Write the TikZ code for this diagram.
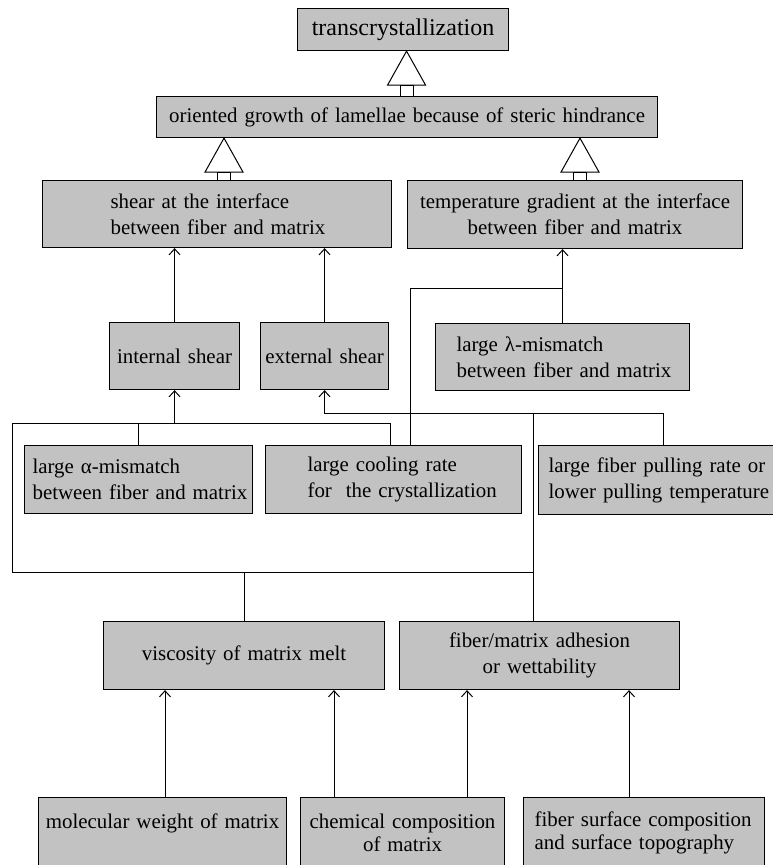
\documentclass[tikz,border=0pt]{standalone}
\usepackage{fontspec}
\setmainfont{Liberation Serif}
\usetikzlibrary{arrows.meta}
\newcommand\fsn{\fontsize{20.9}{26}\selectfont\hyphenpenalty=10000\exhyphenpenalty=10000}
\newcommand\fsb{\fontsize{20.9}{23}\selectfont\hyphenpenalty=10000\exhyphenpenalty=10000}
\newcommand\ftop{\fontsize{24}{28}\selectfont}
\tikzset{
  bx/.style={draw, fill=black!24, line width=1.1pt, inner sep=0pt, anchor=north west, font=\fsn},
  B/.style n args={3}{minimum width=#1pt, text width=#1pt, minimum height=#2pt, align=#3},
  arr/.style={line width=1pt, -{Straight Barb[length=6pt,width=11pt]}},
  ln/.style={line width=1pt},
  hol/.style={line width=1pt, fill=white}
}
\begin{document}
\begin{tikzpicture}[x=1pt,y=-1pt]
\useasboundingbox (0,0) rectangle (772,865);
% boxes
\node[bx,B={211}{42}{center},font=\ftop] (trans) at (297,8) {transcrystallization};
\node[bx,B={501}{41}{center}] (orient) at (156,96) {oriented growth of lamellae because of steric hindrance};
\node[bx,B={349}{67}{left}] (shear) at (42,180) {\hspace*{68pt}shear at the interface\\\hspace*{68pt}between fiber and matrix};
\node[bx,B={335}{68}{center}] (temp) at (407,180) {temperature gradient at the interface\\between fiber and matrix};
\node[bx,B={130}{67}{center}] (internal) at (109,322) {internal shear};
\node[bx,B={128}{67}{center}] (external) at (260,322) {external shear};
\node[bx,B={254}{67}{left}] (lambda) at (435,323) {\hspace*{21pt}large λ-mismatch\\\hspace*{21pt}between fiber and matrix};
\node[bx,B={228}{68}{left}] (alpha) at (24,445) {\hspace*{8pt}large α-mismatch\\\hspace*{8pt}between fiber and matrix};
\node[bx,B={256}{68}{left}] (cooling) at (265,445) {\hspace*{42pt}large cooling rate\\\hspace*{42pt}for\ \ the crystallization};
\node[bx,B={240}{69}{left}] (pulling) at (538,445) {\hspace*{10pt}large fiber pulling rate or\\\hspace*{10pt}lower pulling temperature};
\node[bx,B={281}{68}{center}] (visc) at (103,621) {viscosity of matrix melt};
\node[bx,B={280}{68}{center}] (adh) at (399,621) {fiber/matrix adhesion\\or wettability};
\node[bx,B={248}{71}{center},text height=15pt,text depth=24pt] (molw) at (38,797) {molecular weight of matrix};
\node[bx,B={204}{71}{center},font=\fsb] (chem) at (300,797) {chemical composition\\of matrix};
\node[bx,B={241}{71}{left},font=\fsb] (surf) at (523,797) {\hspace*{11pt}fiber surface composition\\\hspace*{11pt}and surface topography};
% hollow arrows
\coordinate (h1) at ([xshift=3.5pt]trans.south);
\coordinate (h2) at ([xshift=68pt]orient.south west);
\coordinate (h3) at ([xshift=424pt]orient.south west);
\foreach \h/\c in {h1/orient, h2/shear, h3/temp}{
  \draw[hol] (\h) -- ++(-19,34) -- ++(38,0) -- cycle;
  \path (\h |- \c.north) coordinate (tmp);
  \draw[hol] ([xshift=-6.5pt,yshift=-34pt]\h) rectangle ([xshift=6.5pt]tmp);
}
% helper coordinates
\coordinate (cY) at (0,413);
\coordinate (cL1) at (12,423);
\coordinate (cL2) at (12,572);
\coordinate (jT) at (0,288);
\coordinate (coolA) at ([xshift=125pt]cooling.north west);
\coordinate (coolB) at ([xshift=145pt]cooling.north west);
\coordinate (alT) at ([xshift=114pt]alpha.north west);
\coordinate (pullT) at ([xshift=125pt]pulling.north west);
\coordinate (adhT) at ([xshift=134pt]adh.north west);
\coordinate (molT) at ([xshift=127pt]molw.north west);
\coordinate (chL) at ([xshift=34pt]chem.north west);
\coordinate (chR) at ([xshift=167pt]chem.north west);
\coordinate (suT) at ([xshift=106pt]surf.north west);
% connectors
\draw[arr] (internal.north) -- (internal.north |- shear.south);
\draw[arr] (external.north) -- (external.north |- shear.south);
\draw[arr] (lambda.north) -- (lambda.north |- temp.south);
\draw[ln] (coolB) |- (lambda.north |- jT);
\draw[ln] (coolA) |- (cL1) -- (cL2) -- (adhT |- cL2);
\draw[ln] (alT) -- (alT |- cL1);
\draw[arr] (internal.south |- cL1) -- (internal.south);
\draw[arr] (pullT) |- (external.south |- cY) -- (external.south);
\draw[ln] (adhT) -- (adhT |- cY);
\draw[ln] (visc.north) -- (visc.north |- cL2);
\draw[arr] (molT) -- (molT |- visc.south);
\draw[arr] (chL) -- (chL |- visc.south);
\draw[arr] (chR) -- (chR |- adh.south);
\draw[arr] (suT) -- (suT |- adh.south);
\end{tikzpicture}
\end{document}
